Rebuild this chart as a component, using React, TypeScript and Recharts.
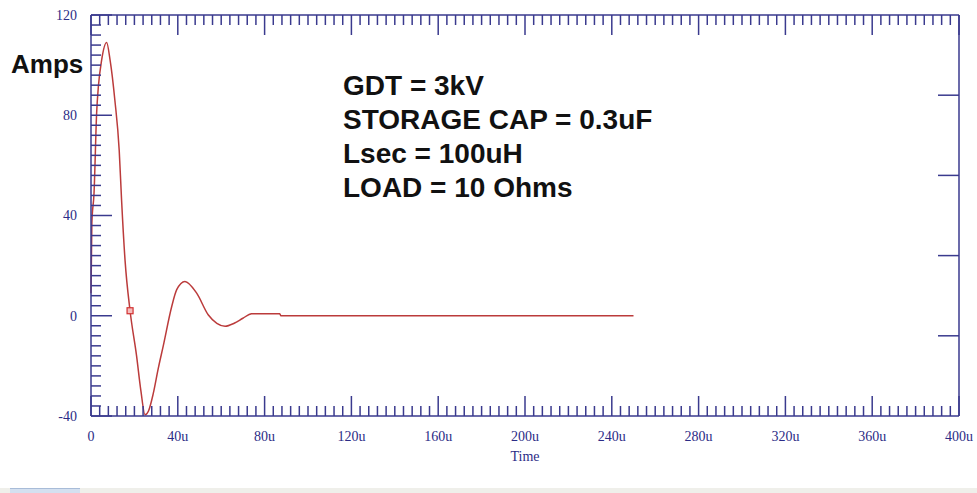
import {
  LineChart,
  Line,
  XAxis,
  YAxis,
  ReferenceDot,
  Customized,
} from "recharts";

// waveform (time in microseconds, current in amps)
const timeUs = [
  0, 0.4, 1.4, 2.6, 3.4, 4.9, 7.2, 8.8, 11, 13, 14.1, 15.7, 18, 21, 23, 24.9,
  26.5, 28.7, 31, 33.3, 37.2, 39.5, 43.3, 48.7, 54, 58, 61.8, 66, 70, 74, 87,
  87.5, 250,
];
const amps = [
  9, 37, 49, 81, 91.5, 102, 109, 102, 86, 66, 46, 22, 2, -16, -30, -39.5, -38,
  -31, -21, -12, 3.7, 10.4, 13.7, 9, 0.4, -3, -4.2, -3, -1, 0.8, 0.8, 0, 0,
];

const xLabelTicks = [0, 40, 80, 120, 160, 200, 240, 280, 320, 360, 400];
const yLabelTicks = [-40, 0, 40, 80, 120];
const rightTicks = [1, 2, 3, 4];
const notes = [
  "GDT = 3kV",
  "STORAGE CAP = 0.3uF",
  "Lsec = 100uH",
  "LOAD = 10 Ohms",
];
const cursorT = 18;
const cursorA = 2;

const AXIS = "#3a3a8e";
const LABEL = "#2c2c86";
const TRACE = "#bb3b3b";
const SERIF = "'Liberation Serif', 'Times New Roman', serif";
const SANS = "'Liberation Sans', Arial, sans-serif";
const GAP = 15;

const chartData = timeUs.map((t, i) => ({ t, amps: amps[i] }));
const xTicks = Array.from({ length: 101 }, (_, i) => i * 4);
const yTicks = Array.from({ length: 41 }, (_, i) => -40 + i * 4);

const isMajorX = (v: any) => xLabelTicks.includes(Number(v));
const isMajorY = (v: number) => yLabelTicks.includes(v);
const fmtTime = (v: number) => (v === 0 ? "0" : `${v}u`);

function BottomTick({ x, y, payload }: any) {
  const major = isMajorX(payload.value);
  const axisY = y - GAP;
  return (
    <g>
      <line
        x1={x}
        x2={x}
        y1={axisY}
        y2={axisY - (major ? 20 : 10)}
        stroke={AXIS}
        strokeWidth={1.5}
      />
      {major && (
        <text
          x={x}
          y={y}
          dy="0.71em"
          textAnchor="middle"
          fill={LABEL}
          fontSize={14}
          fontFamily={SERIF}
        >
          {fmtTime(payload.value)}
        </text>
      )}
    </g>
  );
}

function TopTick({ x, y, payload }: any) {
  const major = isMajorX(payload.value);
  const axisY = y + GAP;
  return (
    <line
      x1={x}
      x2={x}
      y1={axisY}
      y2={axisY + (major ? 20 : 10)}
      stroke={AXIS}
      strokeWidth={1.5}
    />
  );
}

function LeftTick({ x, y, payload }: any) {
  const major = isMajorY(payload.value);
  const axisX = x + 14;
  return (
    <g>
      <line
        x1={axisX}
        x2={axisX + (major ? 21 : 10)}
        y1={y}
        y2={y}
        stroke={AXIS}
        strokeWidth={1.5}
      />
      {major && (
        <text
          x={x}
          y={y}
          dy="0.355em"
          textAnchor="end"
          fill={LABEL}
          fontSize={14}
          fontFamily={SERIF}
        >
          {payload.value}
        </text>
      )}
    </g>
  );
}

function RightTick({ x, y }: any) {
  const axisX = x - GAP;
  return (
    <line
      x1={axisX}
      x2={axisX - 21}
      y1={y}
      y2={y}
      stroke={AXIS}
      strokeWidth={1.5}
    />
  );
}

function Notes() {
  return (
    <g fontFamily={SANS} fontWeight="bold" fill="#111">
      <text x={11} y={73} fontSize={26}>
        Amps
      </text>
      {notes.map((line, i) => (
        <text key={line} x={343} y={95 + i * 34} fontSize={28}>
          {line}
        </text>
      ))}
    </g>
  );
}

export default function App() {
  return (
    <div style={{ width: 977, height: 493, background: "#fff" }}>
      <style>{"body{margin:0}"}</style>

      <LineChart
        width={977}
        height={488}
        data={chartData}
        margin={{ top: 14, right: 0, bottom: 0, left: 0 }}
      >
        <XAxis
          dataKey="t"
          type="number"
          domain={[0, 400]}
          ticks={xTicks}
          interval={0}
          height={72}
          tickSize={0}
          tickMargin={GAP}
          tick={(p: any) => <BottomTick {...p} />}
          axisLine={{ stroke: AXIS, strokeWidth: 1.5 }}
          label={{
            value: "Time",
            position: "insideBottom",
            offset: 27,
            fill: LABEL,
            fontSize: 14,
            fontFamily: SERIF,
          }}
        />
        <XAxis
          xAxisId="top"
          orientation="top"
          dataKey="t"
          type="number"
          domain={[0, 400]}
          ticks={xTicks}
          interval={0}
          height={1}
          tickSize={0}
          tickMargin={GAP}
          tick={(p: any) => <TopTick {...p} />}
          axisLine={{ stroke: AXIS, strokeWidth: 1.5 }}
        />
        <YAxis
          type="number"
          domain={[-40, 120]}
          ticks={yTicks}
          interval={0}
          width={91}
          tickSize={0}
          tickMargin={14}
          tick={(p: any) => <LeftTick {...p} />}
          axisLine={{ stroke: AXIS, strokeWidth: 1.5 }}
        />
        <YAxis
          yAxisId="right"
          orientation="right"
          dataKey="amps"
          type="number"
          domain={[0, 5]}
          allowDataOverflow
          ticks={rightTicks}
          interval={0}
          width={18}
          tickSize={0}
          tickMargin={GAP}
          tick={(p: any) => <RightTick {...p} />}
          axisLine={{ stroke: AXIS, strokeWidth: 1.5 }}
        />

        <Line
          dataKey="amps"
          type="monotone"
          stroke={TRACE}
          strokeWidth={1.5}
          dot={false}
          isAnimationActive={false}
        />

        <ReferenceDot
          x={cursorT}
          y={cursorA}
          r={3}
          shape={(p: any) => (
            <rect
              x={p.cx - 3}
              y={p.cy - 3}
              width={6}
              height={6}
              fill="#f4bcbc"
              stroke="#d23030"
              strokeWidth={1.2}
            />
          )}
        />

        <Customized component={Notes} />
      </LineChart>

      <div
        style={{
          position: "relative",
          height: 5,
          background: "#efefea",
        }}
      >
        <div
          style={{
            position: "absolute",
            left: 10,
            top: 0,
            width: 70,
            height: 5,
            background: "#d4e0f0",
            borderTop: "1px solid #a8bcd8",
          }}
        />
      </div>
    </div>
  );
}
